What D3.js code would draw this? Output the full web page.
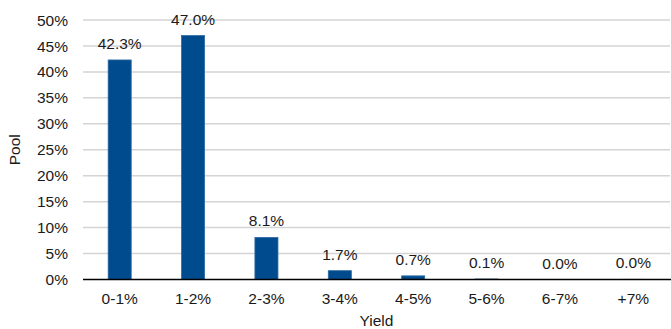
<!DOCTYPE html>
<html><head><meta charset="utf-8">
<script src="https://cdn.jsdelivr.net/npm/d3@7"></script>
<style>body{margin:0;background:#fff}text{font-family:"Liberation Sans",Arial,sans-serif;fill:#1a1a1a}</style>
</head><body>
<svg id="c" width="671" height="329"></svg>
<script>
const categories = ["0-1%","1-2%","2-3%","3-4%","4-5%","5-6%","6-7%","+7%"];
const values = [42.3, 47.0, 8.1, 1.7, 0.7, 0.1, 0.0, 0.03];
const yTicks = [0,5,10,15,20,25,30,35,40,45,50];
const xTitle = "Yield", yTitle = "Pool";

const svg = d3.select("#c");
const m = {l:83, r:670, t:20, b:279.5};
const x = d3.scaleBand().domain(categories).range([m.l, m.r]).paddingInner(0.686).paddingOuter(0.343);
const y = d3.scaleLinear().domain([0,50]).range([m.b, m.t]);
const fs = 15.5;

svg.append("g").selectAll("line").data(yTicks.filter(d=>d>0)).join("line")
  .attr("x1", m.l).attr("x2", m.r).attr("y1", d=>y(d)).attr("y2", d=>y(d))
  .attr("stroke", "#d4d4d4").attr("stroke-width", 1.5);

svg.append("g").selectAll("text").data(yTicks).join("text")
  .attr("x", 68).attr("y", d=>y(d)).attr("dy","0.36em").attr("text-anchor","end")
  .attr("font-size", fs).text(d=>d+"%");

svg.append("g").selectAll("rect").data(values.map((v,i)=>({v,c:categories[i]}))).join("rect")
  .attr("x", d=>x(d.c)).attr("width", x.bandwidth())
  .attr("y", d=>y(d.v)).attr("height", d=>y(0)-y(d.v))
  .attr("fill", "#004b8d")
  .attr("stroke", d=>d.v>0?"#2a6aa3":"none").attr("stroke-width", 0.8);

svg.append("line").attr("x1", m.l).attr("x2", m.r+1).attr("y1", y(0)).attr("y2", y(0))
  .attr("stroke", "#000").attr("stroke-width", 1.5);

svg.append("g").selectAll("text").data(values.map((v,i)=>({v,c:categories[i]}))).join("text")
  .attr("x", d=>x(d.c)+x.bandwidth()/2).attr("y", d=>y(d.v)-11).attr("text-anchor","middle")
  .attr("font-size", fs).text(d=>d.v.toFixed(1)+"%");

svg.append("g").selectAll("text").data(categories).join("text")
  .attr("x", d=>x(d)+x.bandwidth()/2).attr("y", 304).attr("text-anchor","middle")
  .attr("font-size", fs).text(d=>d);

svg.append("text").attr("x", (m.l+m.r)/2).attr("y", 326).attr("text-anchor","middle")
  .attr("font-size", fs).text(xTitle);

svg.append("text").attr("transform", `translate(20,${(m.t+m.b)/2}) rotate(-90)`)
  .attr("text-anchor","middle").attr("font-size", fs).text(yTitle);
</script>
</body></html>
